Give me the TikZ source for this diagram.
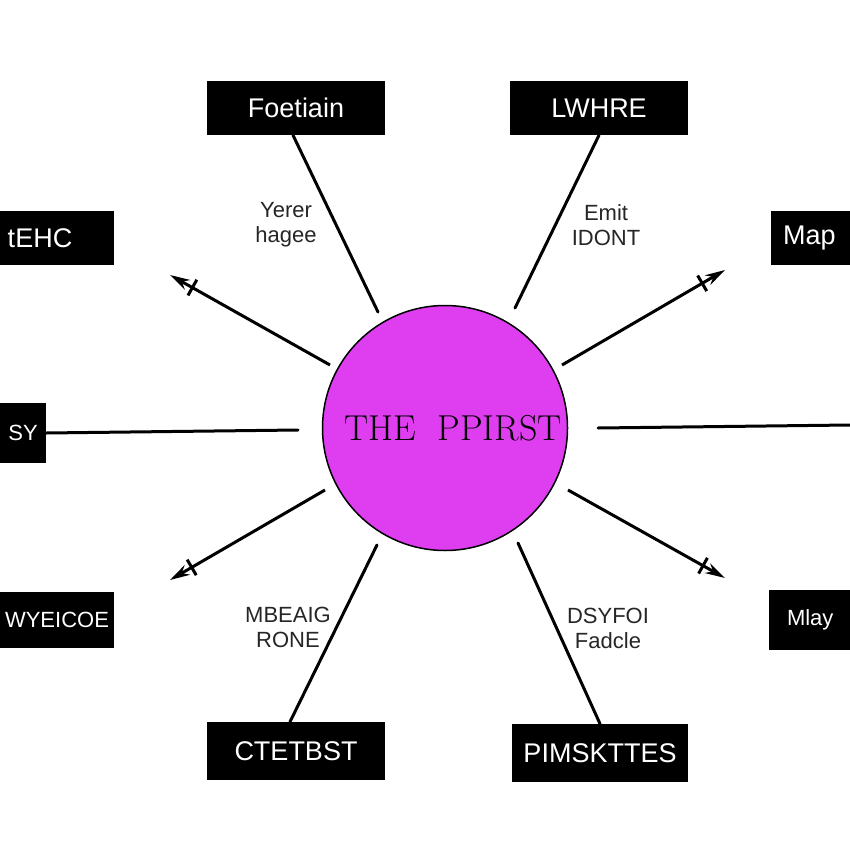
\documentclass[tikz,border=0pt]{standalone}
\usepackage{fontspec}
\setsansfont{Liberation Sans}
\usetikzlibrary{arrows.meta,calc}
\definecolor{hub}{RGB}{222,62,240}
\tikzset{
  box/.style={fill=black, minimum height=54pt, inner sep=0pt},
  btxt/.style={text=white, inner sep=0pt, font=\sffamily\fontsize{27}{27}\selectfont},
  btxts/.style={text=white, inner sep=0pt, font=\sffamily\fontsize{22}{22}\selectfont},
  lbl/.style={font=\sffamily\fontsize{22}{25}\selectfont, align=center, text=black!85},
  spoke/.style={line width=3pt, line cap=round},
  spear/.style={line width=3pt, -{Stealth[length=20pt,width=11pt]}},
  tick/.style={line width=3pt},
}
\begin{document}
\begin{tikzpicture}[x=1pt,y=-1pt]
\useasboundingbox (0,0) rectangle (850,850);
\fill[white] (0,0) rectangle (850,850);
% hub
\node[circle, draw=black, line width=1.5pt, fill=hub, minimum size=245pt, inner sep=0pt] (c) at (445,428) {};
\node[font=\fontsize{36}{36}\selectfont, inner sep=0pt] (ct) at (453,428) {THE\ \ PPIRST};
% boxes
\node[box, minimum width=178pt] (b1) at (296,108) {};
\node[box, minimum width=178pt] (b2) at (599,108) {};
\node[box, minimum width=114pt] (b3) at (57,238) {};
\node[box, minimum width=80pt] (b4) at (811,238) {};
\node[box, minimum width=46pt, minimum height=60pt] (b5) at (23,433) {};
\node[box, minimum width=114pt, minimum height=56pt] (b6) at (57,620) {};
\node[box, minimum width=82pt, minimum height=60pt] (b7) at (810,620) {};
\node[box, minimum width=178pt, minimum height=58pt] (b8) at (296,751) {};
\node[box, minimum width=176pt, minimum height=58pt] (b9) at (600,753) {};
% box texts
\node[btxt] (x1) at (b1) {Foetiain};
\node[btxt] (x2) at (b2) {LWHRE};
\node[btxt] (x3) at ($(b3)+(-17,0)$) {tEHC};
\node[btxt, anchor=west] (x4) at ($(b4.west)+(12,0)$) {Map};
\node[btxts] (x5) at (b5) {SY};
\node[btxts] (x6) at (b6) {WYEICOE};
\node[btxts, anchor=west] (x7) at ($(b7.west)+(18,0)$) {Mlay};
\node[btxt] (x8) at (b8) {CTETBST};
\node[btxt] (x9) at (b9) {PIMSKTTES};
% labels
\node[lbl] (l1) at (286,225) {Yerer\\hagee};
\node[lbl] (l2) at (606,225) {Emit\\IDONT};
\node[lbl] (l3) at (288,627) {MBEAIG\\RONE};
\node[lbl] (l4) at (608,628) {DSYFOI\\Fadcle};
% free-end coordinates
\coordinate (t1) at (378,312);
\coordinate (t2) at (515,308);
\coordinate (s1) at (330,365);
\coordinate (e1) at (170,275);
\coordinate (s2) at (562,365);
\coordinate (e2) at (725,270);
\coordinate (t5) at (298,430);
\coordinate (s6) at (598,428);
\coordinate (e6) at (850,425);
\coordinate (s7) at (325,490);
\coordinate (e7) at (170,580);
\coordinate (s8) at (568,490);
\coordinate (e8) at (725,578);
\coordinate (t9) at (377,545);
\coordinate (t10) at (518,543);
% connectors
\draw[spoke] ($(b1.south)+(-3,0)$) -- (t1);
\draw[spoke] (b2.south) -- (t2);
\draw[spoke] (b5.east) -- (t5);
\draw[spoke] (s6) -- (e6);
\draw[spoke] ($(b8.north)+(-6,0)$) -- (t9);
\draw[spoke] (b9.north) -- (t10);
% spears
\foreach \s/\e in {s1/e1, s2/e2, s7/e7, s8/e8}{
  \draw[spear] (\s) -- (\e);
  \draw[tick] ($(\s)!0.86!(\e)!9pt!90:(\e)$) -- ($(\s)!0.86!(\e)!9pt!-90:(\e)$);
}
\end{tikzpicture}
\end{document}
